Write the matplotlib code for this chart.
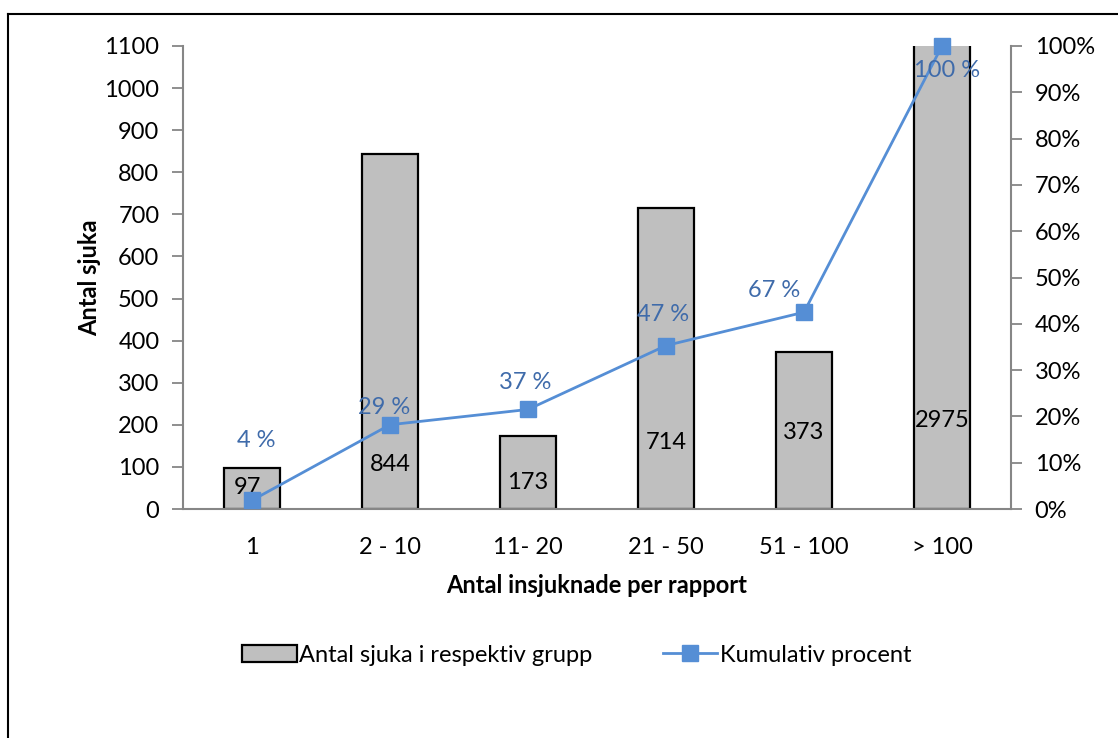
import matplotlib
matplotlib.use("Agg")
import matplotlib.pyplot as plt
from matplotlib.lines import Line2D
from matplotlib.patches import Patch
from matplotlib.ticker import FuncFormatter

plt.rcParams['font.family'] = ['Lato', 'DejaVu Sans']

categories = ["1", "2 - 10", "11- 20", "21 - 50", "51 - 100", "> 100"]
counts = [97, 844, 173, 714, 373, 2975]
cumulative_pct = [0.0187, 0.182, 0.215, 0.353, 0.425, 1.0]
pct_labels = ["4 %", "29 %", "37 %", "47 %", "67 %", "100 %"]

bar_color = "#BFBFBF"
line_color = "#558ED5"
label_blue = "#3F6BAA"
axis_grey = "#868686"
FS = 17

fig = plt.figure(figsize=(11.18, 7.38), dpi=100)
ax = fig.add_axes([183/1118, 1-509/738, (1011-183)/1118, (509-46)/738])
x = list(range(len(categories)))

ax.bar(x, counts, width=0.40, color=bar_color, edgecolor="black", linewidth=1.6, zorder=2)
ax.set_xlim(-0.5, len(categories)-0.5)
ax.set_ylim(0, 1100)
ax.set_yticks(range(0, 1101, 100))
ax.set_xticks(x)
ax.set_xticklabels(categories)

for s in ["top", "right"]:
    ax.spines[s].set_visible(False)
for s in ["left", "bottom"]:
    ax.spines[s].set_color(axis_grey)
    ax.spines[s].set_linewidth(1.5)
ax.tick_params(axis='y', direction='out', length=8, width=1.3, color=axis_grey,
               labelsize=FS, pad=9, labelcolor='black')
ax.tick_params(axis='x', direction='in', length=5, width=1.0, color=axis_grey,
               labelsize=FS, pad=20, labelcolor='black')

ax.set_ylabel("Antal sjuka", fontsize=FS, fontweight='bold', labelpad=2)
ax.set_xlabel("Antal insjuknade per rapport", fontsize=FS, fontweight='bold', labelpad=12)

# bar value labels (positions as placed in the original chart)
bar_label_y = [50, 105, 64, 159, 181, 211]
for xi, v, ly in zip(x, counts, bar_label_y):
    ax.text(xi - 0.03 if xi == 0 else xi, ly, str(v), ha='center', va='center',
            fontsize=FS, color='black', zorder=5)

ax2 = ax.twinx()
ax2.set_ylim(0, 1)
ax2.set_yticks([i/10 for i in range(11)])
ax2.yaxis.set_major_formatter(FuncFormatter(lambda v, p: f"{int(round(v*100))}%"))
for s in ["top", "left", "bottom"]:
    ax2.spines[s].set_visible(False)
ax2.spines["right"].set_color(axis_grey)
ax2.spines["right"].set_linewidth(1.5)
ax2.tick_params(axis='y', direction='out', length=8, width=1.3, color=axis_grey,
                labelsize=FS, pad=9, labelcolor='black')

ax2.plot(x, cumulative_pct, color=line_color, linewidth=2, marker='s', markersize=11,
         markerfacecolor=line_color, markeredgecolor=line_color, clip_on=False, zorder=4)

pct_label_pos = [(0.03, 0.147), (-0.04, 0.220), (-0.02, 0.274), (-0.02, 0.421), (-0.22, 0.471), (0.04, 0.948)]
for xi, lab, (dx, ly) in zip(x, pct_labels, pct_label_pos):
    ax2.text(xi + dx, ly, lab, ha='center', va='center', fontsize=FS, color=label_blue, zorder=6)

handles = [Patch(facecolor=bar_color, edgecolor='black', linewidth=1.6),
           Line2D([0], [0], color=line_color, linewidth=2, marker='s', markersize=11)]
fig.legend(handles, ["Antal sjuka i respektiv grupp", "Kumulativ procent"],
           loc='center', bbox_to_anchor=(0.516, 1-655/738), ncol=2, frameon=False,
           fontsize=FS, handlelength=2.3, handletextpad=0.1, columnspacing=3.0)

# outer chart border (top and left visible)
fig.add_artist(Line2D([8/1118, 1.0], [1-14/738, 1-14/738], color='black', linewidth=1.5,
                      transform=fig.transFigure))
fig.add_artist(Line2D([8/1118, 8/1118], [0.0, 1-14/738], color='black', linewidth=1.5,
                      transform=fig.transFigure))

fig.savefig("out.png", dpi=100)
